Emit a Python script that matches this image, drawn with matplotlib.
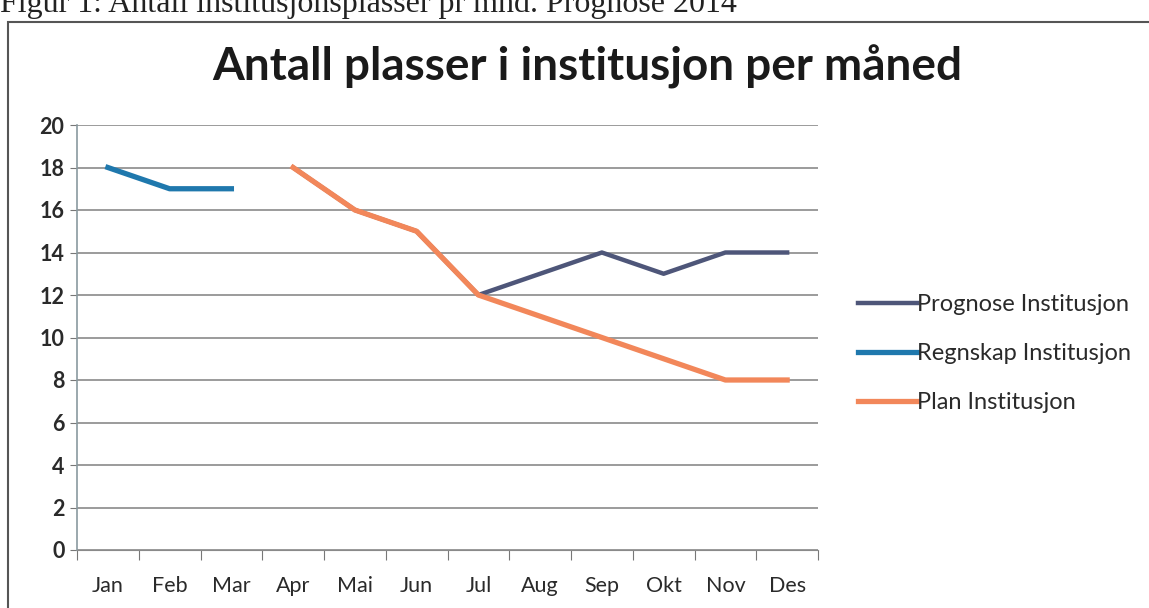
import matplotlib.pyplot as plt
import numpy as np
from matplotlib.patches import Rectangle

months = ['Jan', 'Feb', 'Mar', 'Apr', 'Mai', 'Jun', 'Jul', 'Aug', 'Sep', 'Okt', 'Nov', 'Des']
prognose = [np.nan, np.nan, np.nan, 18, 16, 15, 12, 13, 14, 13, 14, 14]
regnskap = [18, 17, 17, np.nan, np.nan, np.nan, np.nan, np.nan, np.nan, np.nan, np.nan, np.nan]
plan = [np.nan, np.nan, np.nan, 18, 16, 15, 12, 11, 10, 9, 8, 8]

plt.rcParams['font.family'] = ['Lato', 'DejaVu Sans']

fig = plt.figure(figsize=(11.49, 6.08), dpi=100)
ax = fig.add_axes([77 / 1149, 1 - 550 / 608, (818 - 77) / 1149, (550 - 125) / 608])

x = np.arange(len(months))
ax.plot(x, prognose, color='#4e5679', lw=3.2, label='Prognose Institusjon', zorder=3)
ax.plot(x, regnskap, color='#1f78ad', lw=3.8, label='Regnskap Institusjon', zorder=4)
ax.plot(x, plan, color='#f2875a', lw=3.8, label='Plan Institusjon', zorder=5)

ax.set_xlim(-0.5, 11.5)
ax.set_ylim(0, 20)
ax.set_yticks(range(0, 21, 2))
ax.set_xticks(np.arange(-0.5, 12, 1))
ax.set_xticklabels([])
ax.set_xticks(x, minor=True)
ax.set_xticklabels(months, minor=True)
ax.tick_params(axis='x', which='major', length=7, color='#777777', direction='out')
ax.tick_params(axis='x', which='minor', length=0, pad=19, labelsize=15.5, labelcolor='#2a2a2a')
ax.tick_params(axis='y', length=5, color='#777777', pad=4, labelsize=15.5, labelcolor='#2a2a2a')
for lab in ax.get_yticklabels():
    lab.set_fontweight('bold')
ax.grid(axis='y', color='#8a8a8a', lw=1.2, zorder=0)
for s in ['top', 'right']:
    ax.spines[s].set_visible(False)
ax.spines['left'].set_color('#8a9aa0')
ax.spines['bottom'].set_color('#8a8a8a')
ax.spines['left'].set_linewidth(1.2)

fig.text(587 / 1149, 1 - 67 / 608, 'Antall plasser i institusjon per måned',
         ha='center', va='center', fontsize=33, fontweight='bold', color='#1a1a1a')

leg = ax.legend(loc='center left', bbox_to_anchor=(1.025, 0.462), frameon=False,
                fontsize=17, handlelength=2.5, handletextpad=0.0, labelspacing=1.2)
for t in leg.get_texts():
    t.set_color('#2a2a2a')

# frame around the chart from the scanned page
fig.patches.append(Rectangle((8 / 1149, -0.05), 1.2, 1 - 22 / 608 + 0.05,
                             transform=fig.transFigure, fill=False,
                             edgecolor='#555555', lw=1.5))
# caption of the page, partly cut off at the top edge as in the scan
fig.text(0.0, 1 - 12 / 608, 'Figur 1: Antall institusjonsplasser pr mnd. Prognose 2014',
         family='Liberation Serif', fontsize=23, va='baseline', color='#222222')

fig.savefig('out.png', dpi=100)
